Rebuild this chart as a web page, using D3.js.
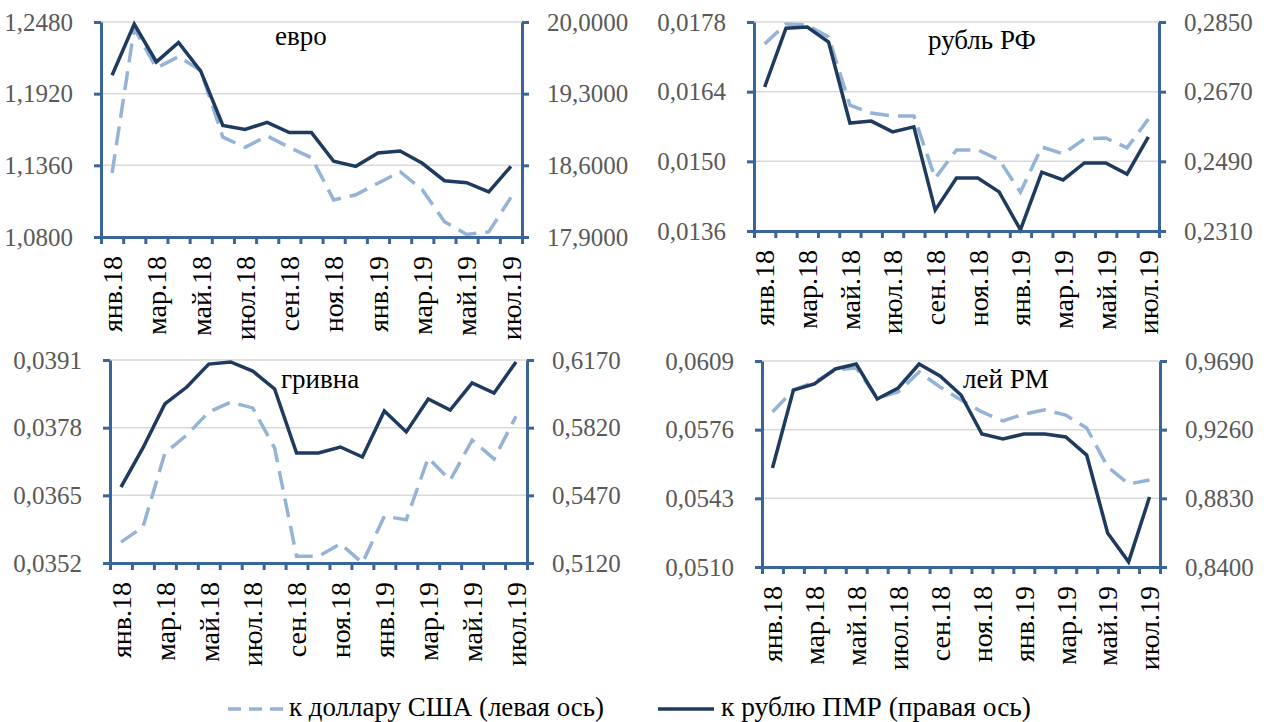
<!DOCTYPE html>
<meta charset="utf-8">
<style>
  body { margin: 0; background: #fff; }
  .grid line { stroke: #d9d9d9; stroke-width: 1.5; }
  .axis path, .axis line { stroke: #3a6598; stroke-width: 3; }
  .line.usd { fill: none; stroke: #95b3d7; stroke-width: 3.5; stroke-dasharray: 19,9; }
  .line.pmr { fill: none; stroke: #1f3a5f; stroke-width: 3.5; }
</style>
<svg width="1271" height="722"></svg>
<script src="https://cdnjs.cloudflare.com/ajax/libs/d3/7.8.5/d3.min.js"></script>
<script>

var months = ["янв.18","фев.18","мар.18","апр.18","май.18","июн.18","июл.18","авг.18","сен.18","окт.18",
              "ноя.18","дек.18","янв.19","фев.19","мар.19","апр.19","май.19","июн.19","июл.19"];

// евро
var euroUsd = [1.130,1.243,1.212,1.221,1.210,1.158,1.150,1.159,1.150,1.142,1.109,1.113,1.122,1.131,1.117,1.092,1.082,1.084,1.111];
var euroPmr = [19.48,19.98,19.61,19.80,19.52,18.99,18.95,19.02,18.92,18.92,18.64,18.59,18.72,18.74,18.62,18.45,18.43,18.34,18.59];
var euroLeftTicks = [1.08, 1.136, 1.192, 1.248];
var euroRightTicks = [17.9, 18.6, 19.3, 20.0];

// рубль РФ
var rubUsd = [0.01736,0.01776,0.01774,0.01750,0.01613,0.01597,0.01591,0.01591,0.01466,0.01523,0.01523,0.01503,0.01438,0.01529,0.01515,0.01545,0.01547,0.01527,0.01585];
var rubPmr = [0.2682,0.2834,0.2837,0.2798,0.2589,0.2594,0.2566,0.2579,0.2364,0.2447,0.2447,0.2411,0.2313,0.2462,0.2442,0.2486,0.2486,0.2457,0.2553];
var rubLeftTicks = [0.0136, 0.0150, 0.0164, 0.0178];
var rubRightTicks = [0.2310, 0.2490, 0.2670, 0.2850];

// гривна
var uahUsd = [0.03560,0.03589,0.03731,0.03766,0.03810,0.03829,0.03818,0.03741,0.03533,0.03533,0.03557,0.03520,0.03610,0.03603,0.03722,0.03679,0.03756,0.03720,0.03802];
var uahPmr = [0.5513,0.5715,0.5943,0.6030,0.6149,0.6160,0.6113,0.6020,0.5689,0.5689,0.5720,0.5668,0.5906,0.5798,0.5968,0.5911,0.6051,0.5999,0.6160];
var uahLeftTicks = [0.0352, 0.0365, 0.0378, 0.0391];
var uahRightTicks = [0.5120, 0.5470, 0.5820, 0.6170];

// лей РМ
var mdlUsd = [0.05845,0.05951,0.05989,0.06047,0.06056,0.05912,0.05941,0.06037,0.05965,0.05903,0.05845,0.05802,0.05835,0.05855,0.05830,0.05768,0.05581,0.05499,0.05518];
var mdlPmr = [0.9020,0.9508,0.9546,0.9640,0.9671,0.9452,0.9521,0.9671,0.9596,0.9477,0.9233,0.9202,0.9233,0.9233,0.9214,0.9101,0.8613,0.8432,0.8838];
var mdlLeftTicks = [0.0510, 0.0543, 0.0576, 0.0609];
var mdlRightTicks = [0.8400, 0.8830, 0.9260, 0.9690];

var legendLabels = ["к доллару США (левая ось)", "к рублю ПМР (правая ось)"];

var panels = [
  {title: "евро",     usd: euroUsd, pmr: euroPmr, lt: euroLeftTicks, rt: euroRightTicks,
   x0: 101, x1: 522, y0: 22, y1: 237, tx: 275, ty: 45},
  {title: "рубль РФ", usd: rubUsd,  pmr: rubPmr,  lt: rubLeftTicks,  rt: rubRightTicks,
   x0: 754, x1: 1159, y0: 22, y1: 231, tx: 928, ty: 49},
  {title: "гривна",   usd: uahUsd,  pmr: uahPmr,  lt: uahLeftTicks,  rt: uahRightTicks,
   x0: 110, x1: 527, y0: 360, y1: 563, tx: 281, ty: 388},
  {title: "лей РМ",   usd: mdlUsd,  pmr: mdlPmr,  lt: mdlLeftTicks,  rt: mdlRightTicks,
   x0: 762, x1: 1160, y0: 361, y1: 567, tx: 963, ty: 388}
];

var loc = d3.formatLocale({decimal: ",", thousands: " ", grouping: [3], currency: ["", ""]});
var fmt = loc.format(".4f");
var FONT = "'Liberation Serif'";

var svg = d3.select("svg");

panels.forEach(function(p) {
  var g = svg.append("g");

  var x = d3.scaleBand().domain(months).range([p.x0, p.x1]);
  var xb = d3.scaleLinear().domain([0, months.length]).range([p.x0, p.x1]);
  var yL = d3.scaleLinear().domain(d3.extent(p.lt)).range([p.y1, p.y0]);
  var yR = d3.scaleLinear().domain(d3.extent(p.rt)).range([p.y1, p.y0]);
  var cx = function(d, i) { return x(months[i]) + x.bandwidth() / 2; };

  // gridlines
  g.append("g").attr("class", "grid")
    .selectAll("line").data(p.lt.slice(1)).enter().append("line")
      .attr("x1", p.x0).attr("x2", p.x1)
      .attr("y1", function(d) { return yL(d); })
      .attr("y2", function(d) { return yL(d); });

  g.append("path").datum(p.usd).attr("class", "line usd")
    .attr("d", d3.line().x(cx).y(function(d) { return yL(d); }));
  g.append("path").datum(p.pmr).attr("class", "line pmr")
    .attr("d", d3.line().x(cx).y(function(d) { return yR(d); }));

  // axes
  var ax1 = g.append("g").attr("class", "axis")
    .attr("transform", "translate(" + p.x0 + ",0)")
    .call(d3.axisLeft(yL).tickValues(p.lt).tickFormat(fmt).tickSize(7).tickSizeOuter(0).tickPadding(21));
  var ax2 = g.append("g").attr("class", "axis")
    .attr("transform", "translate(" + p.x1 + ",0)")
    .call(d3.axisRight(yR).tickValues(p.rt).tickFormat(fmt).tickSize(7).tickSizeOuter(0).tickPadding(18));
  [ax1, ax2].forEach(function(a) {
    a.selectAll("text").style("font-family", FONT).style("font-size", "25px").attr("fill", "#595959");
  });
  g.append("g").attr("class", "axis")
    .attr("transform", "translate(0," + p.y1 + ")")
    .call(d3.axisBottom(xb).tickValues(d3.range(months.length + 1)).tickFormat("").tickSize(7).tickSizeOuter(0));

  // category labels, every other month
  g.selectAll(".xl").data(months.filter(function(d, i) { return i % 2 === 0; })).enter()
    .append("text")
      .attr("transform", function(d) {
        return "translate(" + (x(d) + x.bandwidth() / 2) + "," + (p.y1 + 19) + ") rotate(-90)";
      })
      .attr("dy", "0.35em")
      .attr("text-anchor", "end")
      .attr("fill", "#000")
      .style("font-family", FONT)
      .style("font-size", "28px")
      .text(function(d) { return d; });

  g.append("text")
    .attr("x", p.tx).attr("y", p.ty)
    .attr("fill", "#000")
    .style("font-family", FONT)
    .style("font-size", "27px")
    .text(p.title);
});

// legend
var leg = svg.append("g");
leg.append("line").attr("x1", 228).attr("x2", 283).attr("y1", 709).attr("y2", 709)
  .attr("stroke", "#95b3d7").attr("stroke-width", 3.5).attr("stroke-dasharray", "13,8");
leg.append("text").attr("x", 289).attr("y", 716)
  .style("font-family", FONT).style("font-size", "27px")
  .attr("textLength", 315).attr("lengthAdjust", "spacingAndGlyphs").text(legendLabels[0]);
leg.append("line").attr("x1", 658).attr("x2", 714).attr("y1", 709).attr("y2", 709)
  .attr("stroke", "#1f3a5f").attr("stroke-width", 3.5);
leg.append("text").attr("x", 721).attr("y", 716)
  .style("font-family", FONT).style("font-size", "27px")
  .attr("textLength", 310).attr("lengthAdjust", "spacingAndGlyphs").text(legendLabels[1]);

</script>
